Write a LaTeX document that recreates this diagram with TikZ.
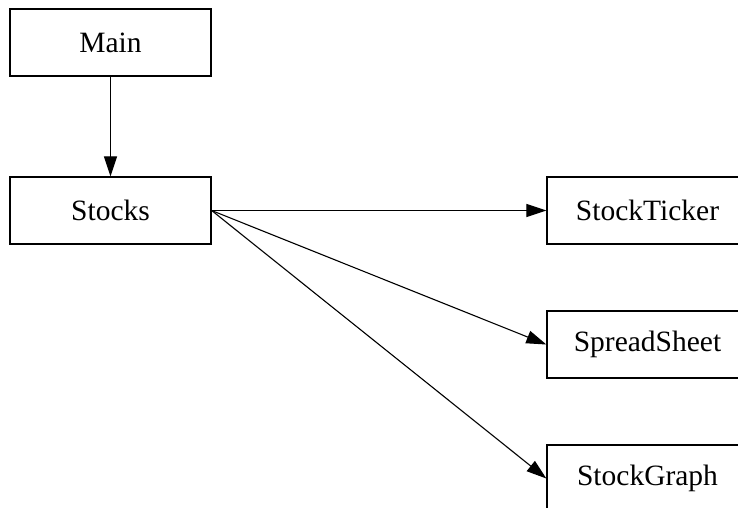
\documentclass[tikz,border=0pt]{standalone}
\usepackage{fontspec}
\setmainfont{Liberation Serif}
\usetikzlibrary{arrows.meta}
\tikzset{
  box/.style={draw, line width=1.3pt, minimum width=201pt, minimum height=67pt,
    inner sep=0pt, font=\fontsize{29.5}{31}\selectfont},
  link/.style={line width=1.1pt, -{Triangle[length=20pt,width=13pt]}}
}
\begin{document}
\begin{tikzpicture}[x=1pt,y=-1pt]
  \useasboundingbox (0,0) rectangle (738,507);
  \clip (0,0) rectangle (738,507);
  \node[box] (main) at (110.5,42.5) {Main};
  \node[box] (stocks) at (110.5,210.5) {Stocks};
  \node[box] (ticker) at (647.5,210.5) {StockTicker};
  \node[box] (sheet) at (647.5,344.5) {SpreadSheet};
  \node[box] (graph) at (647.5,478.5) {StockGraph};
  \draw[link] (main) -- (stocks);
  \draw[link] (stocks.east) -- (ticker.west);
  \draw[link] (stocks.east) -- (sheet.west);
  \draw[link] (stocks.east) -- (graph.west);
\end{tikzpicture}
\end{document}
